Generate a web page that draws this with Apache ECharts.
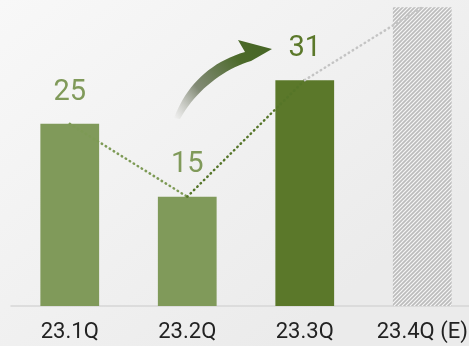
<!DOCTYPE html>
<html>
<head>
    <meta charset="utf-8">
    <title>Quarterly</title>
    <script src="https://cdn.jsdelivr.net/npm/echarts@6/dist/echarts.min.js"></script>
    <style>body{margin:0;} #main{width:469px;height:346px;}</style>
</head>
<body>
    <div id="main"></div>
    <script type="text/javascript">
var categories = ['23.1Q', '23.2Q', '23.3Q', '23.4Q (E)'];
var values = [25, 15, 31, 41];
var showLabel = [true, true, true, false];

// stripe pattern for the estimate bar
var pat = document.createElement('canvas');
pat.width = 4; pat.height = 4;
var pc = pat.getContext('2d');
pc.fillStyle = '#bcbcbc';
pc.fillRect(0, 0, 4, 4);
pc.strokeStyle = '#f6f6f6';
pc.lineWidth = 1.2;
pc.beginPath();
pc.moveTo(-1, 5); pc.lineTo(5, -1);
pc.moveTo(-1, 1); pc.lineTo(1, -1);
pc.moveTo(3, 5); pc.lineTo(5, 3);
pc.stroke();

function seg(a, b) {
    return values.map(function (v, i) { return (i >= a && i <= b) ? v : '-'; });
}

// decorative curved arrow outline (sampled cubic curves)
function cubic(p0, p1, p2, p3, n) {
    var pts = [];
    for (var k = 0; k <= n; k++) {
        var t = k / n, u = 1 - t;
        pts.push([
            u*u*u*p0[0] + 3*u*u*t*p1[0] + 3*u*t*t*p2[0] + t*t*t*p3[0],
            u*u*u*p0[1] + 3*u*u*t*p1[1] + 3*u*t*t*p2[1] + t*t*t*p3[1]
        ]);
    }
    return pts;
}
var arrowPts = cubic([174, 118], [186, 86], [210, 62], [245, 52], 20)
    .concat([[238, 40], [272, 49]])
    .concat(cubic([251, 61], [224, 69], [196, 90], [180, 119], 20));

var barColors = ['#809a5a', '#809a5a', '#5b782a', { image: pat, repeat: 'repeat' }];
var labelColors = ['#809a5a', '#809a5a', '#5b782a', '#999'];

var myChart = echarts.init(document.getElementById('main'));

function dotted(color) {
    return { color: color, width: 2.5, type: [0.5, 4.2], cap: 'round' };
}

var option = {
    backgroundColor: {
        type: 'linear', x: 0, y: 0, x2: 0.6, y2: 1,
        colorStops: [{ offset: 0, color: '#f8f8f8' }, { offset: 1, color: '#ebebeb' }]
    },
    animation: false,
    grid: { left: 11, width: 470, top: 0, bottom: 40, containLabel: false, outerBoundsMode: 'none' },
    xAxis: {
        type: 'category',
        data: categories,
        axisTick: { show: false },
        axisLine: { lineStyle: { color: '#d6d6d6', width: 1.5 } },
        axisLabel: { color: '#222', fontSize: 22, fontFamily: 'Roboto', margin: 15, interval: 0, hideOverlap: false }
    },
    yAxis: { type: 'value', min: 0, max: 42, show: false, splitLine: { show: false } },
    graphic: [{
        type: 'polygon',
        z: 10,
        shape: { points: arrowPts },
        style: {
            fill: {
                type: 'linear', x: 0, y: 1, x2: 1, y2: 0,
                colorStops: [
                    { offset: 0, color: 'rgba(150,150,140,0)' },
                    { offset: 0.3, color: 'rgba(110,120,95,0.85)' },
                    { offset: 0.7, color: '#4c6a2a' },
                    { offset: 1, color: '#456524' }
                ]
            }
        }
    }],
    series: [{
        type: 'bar',
        barWidth: '50%',
        data: values.map(function (v, i) {
            return {
                value: v,
                itemStyle: { color: barColors[i] },
                label: { show: showLabel[i], color: labelColors[i] }
            };
        }),
        label: {
            position: 'top', distance: 17,
            fontSize: 29, fontFamily: 'Roboto'
        }
    }, {
        type: 'line', data: seg(0, 1), symbol: 'none', z: 3,
        lineStyle: dotted('#7d9a55')
    }, {
        type: 'line', data: seg(1, 2), symbol: 'none', z: 3,
        lineStyle: dotted('#557528')
    }, {
        type: 'line', data: seg(2, 3), symbol: 'none', z: 3,
        lineStyle: dotted('#c4c4c4')
    }]
};
myChart.setOption(option);
    </script>
</body>
</html>
